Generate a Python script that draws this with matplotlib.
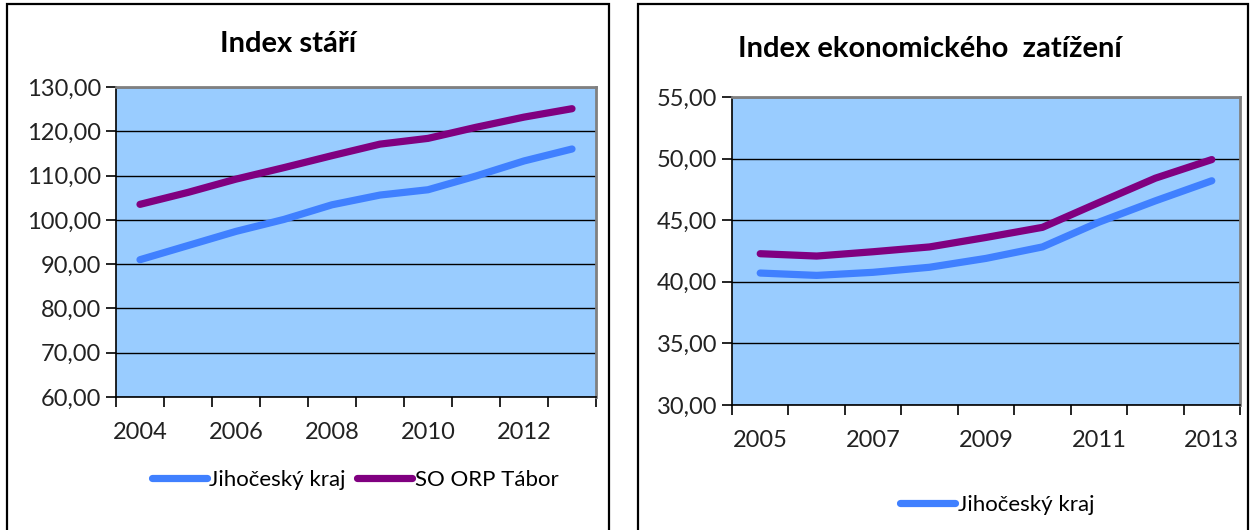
import matplotlib
matplotlib.use("Agg")
import matplotlib.pyplot as plt
from matplotlib.patches import Rectangle

# ---------------------------------------------------------------- data
years_a = [2004, 2005, 2006, 2007, 2008, 2009, 2010, 2011, 2012, 2013]
stari_kraj = [91.0, 94.2, 97.4, 100.1, 103.4, 105.6, 106.8, 109.9, 113.3, 116.0]
stari_tabor = [103.5, 106.2, 109.2, 111.8, 114.5, 117.1, 118.4, 120.9, 123.2, 125.1]

years_b = [2005, 2006, 2007, 2008, 2009, 2010, 2011, 2012, 2013]
ekon_kraj = [40.71, 40.52, 40.77, 41.18, 41.90, 42.83, 44.84, 46.57, 48.20]
ekon_tabor = [42.28, 42.09, 42.44, 42.83, 43.60, 44.42, 46.43, 48.41, 49.92]

series_names = ["Jihočeský kraj", "SO ORP Tábor"]

BLUE = "#4080FF"
PURPLE = "#800080"
FILL = "#99CCFF"
W, H = 1250, 530

plt.rcParams["font.family"] = ["Lato", "DejaVu Sans"]

fig = plt.figure(figsize=(W / 100, H / 100), dpi=100)

def px(x0, y0, x1, y1):
    return [x0 / W, 1 - y1 / H, (x1 - x0) / W, (y1 - y0) / H]

# outer chart frames (bottom runs off the image, as in the source)
fig.patches.append(Rectangle((7 / W, -0.05), (609 - 7) / W, 1.05 - 4 / H, transform=fig.transFigure,
                             fill=False, ec="black", lw=1.6))
fig.patches.append(Rectangle((638 / W, -0.05), (1248 - 638) / W, 1.05 - 4 / H, transform=fig.transFigure,
                             fill=False, ec="black", lw=1.6))

def panel(rect, years, kraj, tabor, ylim, ystep, title, title_xy, leg_xy, show_tabor_leg):
    ax = fig.add_axes(rect)
    ax.set_facecolor(FILL)
    n = len(years)
    xs = list(range(n))
    l1, = ax.plot(xs, kraj, color=BLUE, lw=5.2, solid_capstyle="round", label=series_names[0], zorder=3)
    l2, = ax.plot(xs, tabor, color=PURPLE, lw=5.2, solid_capstyle="round", label=series_names[1], zorder=3)
    ax.set_xlim(-0.5, n - 0.5)
    ax.set_ylim(*ylim)
    yt = [ylim[0] + i * ystep for i in range(int(round((ylim[1] - ylim[0]) / ystep)) + 1)]
    ax.set_yticks(yt)
    ax.set_yticklabels([f"{v:.2f}".replace(".", ",") for v in yt], fontsize=17, color="#222222")
    # category axis: ticks between categories, labels on every other category
    ax.set_xticks([i - 0.5 for i in range(n + 1)])
    ax.set_xticklabels([])
    ax.set_xticks(xs[::2], minor=True)
    ax.set_xticklabels([str(y) for y in years[::2]], minor=True, fontsize=17, color="#222222")
    ax.tick_params(axis="x", which="minor", length=0, pad=18)
    ax.tick_params(axis="both", which="major", length=7, width=1.2, direction="out")
    ax.yaxis.grid(True, color="black", lw=1)
    ax.set_axisbelow(True)
    for s in ["top", "right"]:
        ax.spines[s].set_color("#808080")
        ax.spines[s].set_linewidth(2)
    for s in ["left", "bottom"]:
        ax.spines[s].set_color("black")
        ax.spines[s].set_linewidth(1.2)
    fig.text(title_xy[0] / W, 1 - title_xy[1] / H, title, ha="center", va="center",
             fontsize=21, fontweight="bold")
    handles = [l1, l2] if show_tabor_leg else [l1]
    fig.legend(handles=handles, loc="center", bbox_to_anchor=(leg_xy[0] / W, 1 - leg_xy[1] / H),
               ncol=2, frameon=False, fontsize=16, handlelength=2.5, handletextpad=0.1,
               columnspacing=0.5)
    return ax

panel(px(116, 87, 596, 397), years_a, stari_kraj, stari_tabor, (60, 130), 10,
      "Index stáří", (288, 44), (355, 480), True)
panel(px(732, 97, 1240, 405), years_b, ekon_kraj, ekon_tabor, (30, 55), 5,
      "Index ekonomického  zatížení", (930, 49), (997, 505), False)

fig.savefig("out.png", dpi=100)
